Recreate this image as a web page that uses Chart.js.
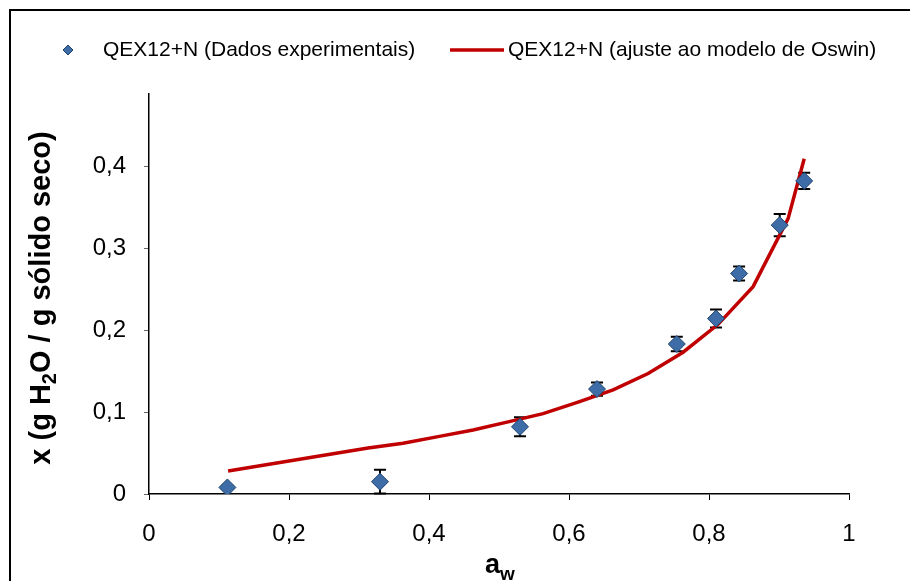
<!DOCTYPE html>
<html>
<head>
<meta charset="utf-8">
<script src="https://cdn.jsdelivr.net/npm/chart.js@4"></script>
<style>
    body { margin: 0; background: #fff; }
    #wrap { position: relative; width: 910px; height: 581px; overflow: hidden; }
    #frame { position: absolute; left: 9px; top: 9px; width: 2000px; height: 2000px; border: 2px solid #000; }
    #chart { position: absolute; left: 0; top: 0; }
</style>
</head>
<body>
<div id="wrap">
    <div id="frame"></div>
    <canvas id="chart" width="910" height="581"></canvas>
</div>
<script>
// experimental points (aw, moisture) and their error bars
const awExp = [0.112, 0.330, 0.530, 0.640, 0.754, 0.810, 0.843, 0.901, 0.936];
const xExp = [0.008, 0.015, 0.082, 0.128, 0.183, 0.214, 0.269, 0.328, 0.382];
const xErr = [0.002, 0.0145, 0.0115, 0.008, 0.0087, 0.011, 0.0085, 0.0135, 0.010];

// Oswin fit curve
const awFit = [0.113, 0.163, 0.213, 0.263, 0.313, 0.363, 0.413, 0.463, 0.513, 0.563, 0.613, 0.663, 0.713, 0.763, 0.813, 0.863, 0.913, 0.936];
const xFit = [0.028, 0.035, 0.042, 0.049, 0.056, 0.062, 0.070, 0.078, 0.088, 0.098, 0.112, 0.127, 0.147, 0.173, 0.207, 0.253, 0.336, 0.409];

const xTicks = [0, 0.2, 0.4, 0.6, 0.8, 1];
const xTickLabels = ['0', '0,2', '0,4', '0,6', '0,8', '1'];
const yTicks = [0, 0.1, 0.2, 0.3, 0.4];
const yTickLabels = ['0', '0,1', '0,2', '0,3', '0,4'];

const legendLabels = ['QEX12+N (Dados experimentais)', 'QEX12+N (ajuste ao modelo de Oswin)'];

const FONT = '"Liberation Sans", Arial, sans-serif';
const markerFill = '#3d6ca6';
const markerEdge = '#22456f';
const fitColor = '#c00000';

const errorBars = {
    id: 'errorBars',
    beforeDatasetsDraw(chart) {
        const ctx = chart.ctx;
        const xs = chart.scales.x, ys = chart.scales.y;
        ctx.save();
        ctx.strokeStyle = '#000';
        ctx.lineWidth = 2;
        awExp.forEach((aw, i) => {
            const px = xs.getPixelForValue(aw);
            const top = ys.getPixelForValue(xExp[i] + xErr[i]);
            const bot = ys.getPixelForValue(Math.max(0, xExp[i] - xErr[i]));
            ctx.beginPath();
            ctx.moveTo(px, top); ctx.lineTo(px, bot);
            ctx.moveTo(px - 6, top); ctx.lineTo(px + 6, top);
            ctx.moveTo(px - 6, bot); ctx.lineTo(px + 6, bot);
            ctx.stroke();
        });
        ctx.restore();
    }
};

const extras = {
    id: 'extras',
    afterDraw(chart) {
        const ctx = chart.ctx;
        ctx.save();
        ctx.fillStyle = '#000';

        // legend
        Chart.helpers.drawPoint(ctx, {
            pointStyle: 'rectRot', radius: 5, borderWidth: 1, rotation: 0
        }, 68, 50);
        ctx.fillStyle = markerFill;
        ctx.strokeStyle = markerEdge;
        ctx.fill(); ctx.stroke();

        ctx.fillStyle = '#000';
        ctx.font = '21px ' + FONT;
        ctx.textBaseline = 'middle';
        ctx.textAlign = 'left';
        ctx.fillText(legendLabels[0], 103, 50);

        ctx.strokeStyle = fitColor;
        ctx.lineWidth = 3.5;
        ctx.beginPath();
        ctx.moveTo(450, 50); ctx.lineTo(504, 50);
        ctx.stroke();
        ctx.fillText(legendLabels[1], 508, 50);

        // x title: a with subscript w
        ctx.font = 'bold 27px ' + FONT;
        ctx.textBaseline = 'alphabetic';
        const aW = ctx.measureText('a').width;
        ctx.font = 'bold 19px ' + FONT;
        const wW = ctx.measureText('w').width;
        const x0 = 500 - (aW + wW) / 2;
        ctx.font = 'bold 27px ' + FONT;
        ctx.fillText('a', x0, 573);
        ctx.font = 'bold 19px ' + FONT;
        ctx.fillText('w', x0 + aW, 580);

        // y title, rotated, with subscript 2
        ctx.translate(56, 298);
        ctx.rotate(-Math.PI / 2);
        const parts = [['x (g H', 29, 0], ['2', 20, 6], ['O / g sólido seco)', 29, 0]];
        let total = 0;
        parts.forEach(p => { ctx.font = 'bold ' + p[1] + 'px ' + FONT; total += ctx.measureText(p[0]).width; });
        let cx = -total / 2;
        parts.forEach(p => {
            ctx.font = 'bold ' + p[1] + 'px ' + FONT;
            ctx.fillText(p[0], cx, -6 + p[2]);
            cx += ctx.measureText(p[0]).width;
        });
        ctx.restore();
    }
};

new Chart(document.getElementById('chart'), {
    type: 'scatter',
    data: {
        datasets: [{
            label: legendLabels[0],
            data: awExp.map((aw, i) => ({ x: aw, y: xExp[i] })),
            pointStyle: 'rectRot',
            pointRadius: 8.5,
            pointBorderWidth: 1,
            backgroundColor: markerFill,
            borderColor: markerEdge,
            order: 1
        }, {
            label: legendLabels[1],
            data: awFit.map((aw, i) => ({ x: aw, y: xFit[i] })),
            showLine: true,
            pointRadius: 0,
            borderColor: fitColor,
            borderWidth: 3.5,
            tension: 0,
            order: 2
        }]
    },
    options: {
        responsive: false,
        animation: false,
        devicePixelRatio: 1,
        layout: { padding: { left: 0, top: 94, right: 61, bottom: 0 } },
        plugins: { legend: { display: false }, tooltip: { enabled: false } },
        scales: {
            x: {
                type: 'linear', min: 0, max: 1,
                afterFit: s => { s.height = 87; },
                afterBuildTicks: s => { s.ticks = xTicks.map(v => ({ value: v })); },
                ticks: {
                    callback: (v, i) => xTickLabels[i],
                    color: '#000', padding: 20, maxRotation: 0,
                    font: { family: FONT, size: 24 }
                },
                grid: { drawOnChartArea: false, drawTicks: true, tickLength: 6, color: '#000' },
                border: { color: '#000', width: 1.5 }
            },
            y: {
                type: 'linear', min: 0, max: 0.488,
                afterFit: s => { s.width = 149; },
                afterBuildTicks: s => { s.ticks = yTicks.map(v => ({ value: v })); },
                ticks: {
                    callback: (v, i) => yTickLabels[i],
                    color: '#000', padding: 18,
                    font: { family: FONT, size: 24 }
                },
                grid: { drawOnChartArea: false, drawTicks: true, tickLength: 5, color: '#666' },
                border: { color: '#000', width: 1.5 }
            }
        }
    },
    plugins: [errorBars, extras]
});
</script>
</body>
</html>
